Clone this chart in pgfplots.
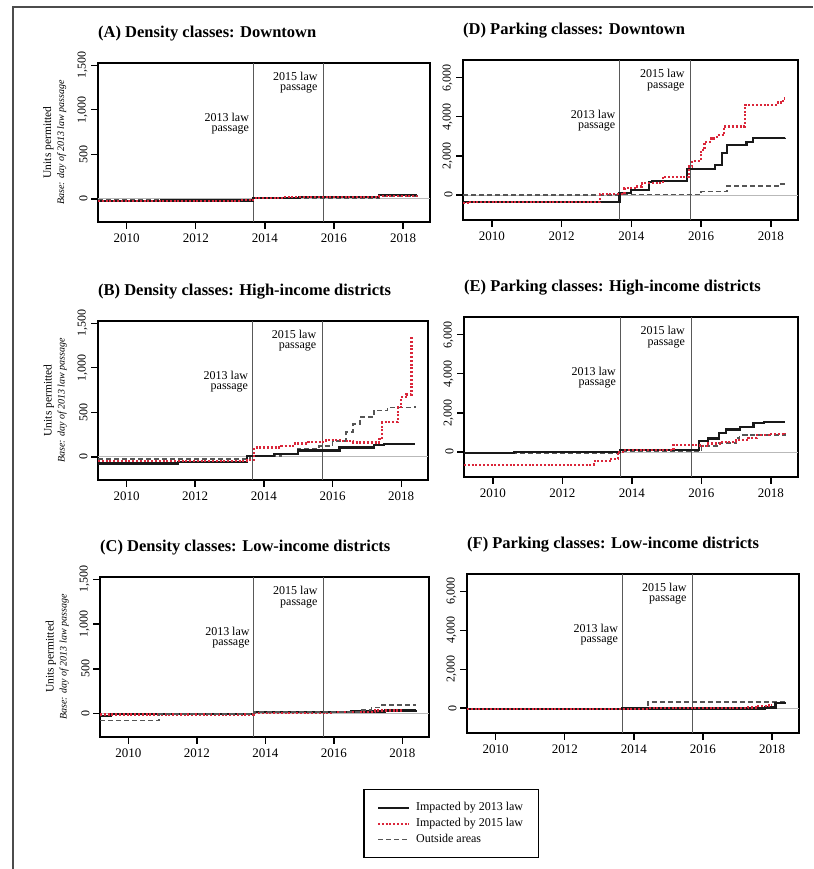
\documentclass[border=0pt]{standalone}
\usepackage{fontspec}
\setmainfont{Liberation Serif}
\usepackage{pgfplots}
\pgfplotsset{compat=1.18}
\definecolor{redline}{RGB}{218,38,58}
\definecolor{greyline}{RGB}{85,85,85}

\newcommand\annfont{\fontsize{12}{10.5}\selectfont}

\pgfplotsset{
  panel/.style={
    scale only axis, xmin=2009.17, xmax=2018.78,
    xtick={2010,2012,2014,2016,2018},
    scaled x ticks=false, scaled y ticks=false,
    tick pos=left, tick align=outside, major tick length=7pt,
    axis line style={line width=1.8pt},
    every tick/.style={line width=1.4pt, black},
    /pgf/number format/assume math mode=true,
    xticklabel style={/pgf/number format/1000 sep={}, font=\fontsize{13}{14}\selectfont, yshift=-1.5pt},
    yticklabel style={/pgf/number format/1000 sep={,}, rotate=90, anchor=south, font=\fontsize{12}{13}\selectfont},
    title style={at={(0,1)}, anchor=base west, yshift=19pt, inner sep=0pt, font=\fontsize{16.5}{18}\selectfont\bfseries},
  },
  density/.style={ymin=-260, ymax=1525, ytick={0,500,1000,1500}},
  parking/.style={ymin=-1280, ymax=6900, ytick={0,2000,4000,6000}},
  leftlab/.style={
    ylabel={Units permitted\\{\itshape\fontsize{10}{13}\selectfont Base: day of 2013 law passage}},
    ylabel style={align=center, at={(axis description cs:-0.13,0.5)}, anchor=center, font=\fontsize{11.5}{13}\selectfont},
  },
  s13/.style={const plot, no marks, line width=2.2pt, black!90},
  s15/.style={const plot, no marks, line width=2.2pt, redline, dash pattern=on 2pt off 1.8pt},
  sout/.style={const plot, no marks, line width=1.7pt, greyline, dash pattern=on 5pt off 3pt},
}

% law lines and notes; #1 ymin, #2 ymax, #3 #4: y of the two notes
\newcommand\lawnotes[4]{%
  \draw[line width=0.7pt, gray!55] (axis cs:2009.17,0) -- (axis cs:2018.78,0);
  \draw[line width=0.8pt, gray!70!black] (axis cs:2013.66,#1) -- (axis cs:2013.66,#2);
  \draw[line width=0.8pt, gray!70!black] (axis cs:2015.70,#1) -- (axis cs:2015.70,#2);
  \node[anchor=east, align=right, inner sep=0pt, font=\annfont]
    at (axis cs:2013.545,#3) {2013 law\\passage};
  \node[anchor=east, align=right, inner sep=0pt, font=\annfont]
    at (axis cs:2015.53,#4) {2015 law\\passage};
}

\begin{document}
\begin{tikzpicture}
\path[use as bounding box] (0pt,0pt) rectangle (813pt,869pt);
\draw[line width=1.5pt, gray!60!black] (13pt,0pt) -- (13pt,862pt) -- (813pt,862pt);

% (A)
\begin{axis}[panel, density, leftlab, at={(98pt,647pt)}, anchor=south west,
  width=332pt, height=159pt, title={(A) Density classes: Downtown}]
\lawnotes{-260}{1525}{847}{1302}
\addplot[sout] coordinates {(2009.17,-15) (2011.0,-12) (2013.66,5) (2015.0,10) (2017.3,30) (2018.4,40)};
\addplot[s13] coordinates {(2009.17,-25) (2011.0,-18) (2013.66,12) (2015.0,18) (2017.3,45) (2018.4,45)};
\addplot[s15] coordinates {(2009.17,-25) (2011.0,-20) (2013.3,-10) (2013.7,8) (2014.5,22) (2016.5,25) (2017.3,32) (2018.4,35)};
\end{axis}

% (D)
\begin{axis}[panel, parking, at={(463pt,649pt)}, anchor=south west,
  width=335pt, height=160pt, title={(D) Parking classes: Downtown}]
\lawnotes{-1280}{6900}{3792}{5878}
\addplot[sout] coordinates {(2009.17,0) (2013.66,20) (2016.0,170) (2016.75,460) (2018.3,560) (2018.4,560)};
\addplot[s13] coordinates {(2009.17,-340) (2013.66,90) (2014.0,255) (2014.5,650) (2014.6,715)
  (2015.6,1330) (2016.4,1530) (2016.6,2160) (2016.75,2550) (2017.3,2720) (2017.5,2900) (2018.4,2930)};
\addplot[s15] coordinates {(2009.17,-430) (2009.3,-340) (2013.1,50) (2013.8,340) (2014.1,430)
  (2014.3,600) (2014.9,930) (2015.65,1450) (2015.75,1750) (2016.0,2300) (2016.1,2720) (2016.3,2890)
  (2016.45,3060) (2016.65,3500) (2017.25,4600) (2018.2,4730) (2018.35,4930) (2018.4,4930)};
\end{axis}

% (B)
\begin{axis}[panel, density, leftlab, at={(98pt,389pt)}, anchor=south west,
  width=330pt, height=159pt, title={(B) Density classes: High-income districts}]
\lawnotes{-260}{1525}{847}{1302}
\addplot[sout] coordinates {(2009.17,-25) (2013.5,-15) (2013.6,10) (2014.5,30) (2015.0,85) (2015.6,125)
  (2016.0,180) (2016.4,275) (2016.6,370) (2016.8,445) (2017.2,520) (2017.6,555) (2018.4,575)};
\addplot[s13] coordinates {(2009.17,-75) (2011.5,-60) (2013.5,10) (2014.3,30) (2015.0,70) (2016.2,105)
  (2017.2,130) (2017.5,145) (2018.4,145)};
\addplot[s15] coordinates {(2009.17,-45) (2013.5,-35) (2013.72,105) (2014.5,120) (2014.9,150) (2015.3,165)
  (2015.8,190) (2016.3,175) (2016.6,160) (2017.35,200) (2017.45,390) (2017.9,560) (2018.0,670)
  (2018.15,700) (2018.3,1330) (2018.35,1330)};
\end{axis}

% (E)
\begin{axis}[panel, parking, at={(464pt,392pt)}, anchor=south west,
  width=334pt, height=160pt, title={(E) Parking classes: High-income districts}]
\lawnotes{-1280}{6900}{3792}{5878}
\addplot[sout] coordinates {(2009.17,-50) (2013.66,60) (2015.9,100) (2016.0,300) (2016.5,450) (2017.0,700)
  (2017.1,850) (2017.3,880) (2018.4,920)};
\addplot[s13] coordinates {(2009.17,-50) (2010.6,-20) (2013.66,80) (2015.0,100) (2015.93,570) (2016.2,690)
  (2016.5,950) (2016.7,1150) (2017.1,1290) (2017.5,1460) (2017.8,1550) (2018.4,1550)};
\addplot[s15] coordinates {(2009.17,-650) (2012.9,-480) (2013.4,-350) (2013.6,0) (2013.75,90) (2015.2,340)
  (2015.95,300) (2016.2,430) (2016.6,520) (2017.0,600) (2017.35,700) (2017.6,850) (2018.0,900) (2018.4,950)};
\end{axis}

% (C)
\begin{axis}[panel, density, leftlab, at={(100pt,132pt)}, anchor=south west,
  width=329pt, height=160pt, title={(C) Density classes: Low-income districts},
  legend style={at={(1.067,-0.325)}, anchor=north, draw=black, line width=1.2pt,
    cells={anchor=west}, inner xsep=13pt, inner ysep=10pt,
    nodes={inner sep=2pt, text height=9pt, text depth=3pt}, font=\fontsize{12}{13}\selectfont},
  legend image code/.code={\draw[#1] (0pt,0pt) -- (31pt,0pt); \path (35pt,0pt);}]
\lawnotes{-260}{1525}{847}{1302}
\addplot[s13] coordinates {(2009.17,-25) (2009.5,0) (2013.66,15) (2016.5,25) (2017.5,35) (2018.4,40)};
\addlegendentry{Impacted by 2013 law}
\addplot[s15] coordinates {(2009.17,-8) (2013.66,10) (2016.0,20) (2017.2,35) (2018.0,40)};
\addlegendentry{Impacted by 2015 law}
\addplot[sout] coordinates {(2009.17,-75) (2010.9,-5) (2013.66,20) (2016.8,45) (2017.1,70) (2017.4,95) (2018.4,95)};
\addlegendentry{Outside areas}
\end{axis}

% (F)
\begin{axis}[panel, parking, at={(467pt,136pt)}, anchor=south west,
  width=332pt, height=159pt, title={(F) Parking classes: Low-income districts}]
\lawnotes{-1280}{6900}{3792}{5878}
\addplot[sout] coordinates {(2009.17,-40) (2014.4,330) (2018.2,330) (2018.4,340)};
\addplot[s13] coordinates {(2009.17,-60) (2013.66,-20) (2017.8,30) (2018.1,280) (2018.4,280)};
\addplot[s15] coordinates {(2009.17,-30) (2014.4,0) (2017.3,30) (2017.6,100) (2017.9,150) (2018.0,150)};
\end{axis}
\end{tikzpicture}
\end{document}
